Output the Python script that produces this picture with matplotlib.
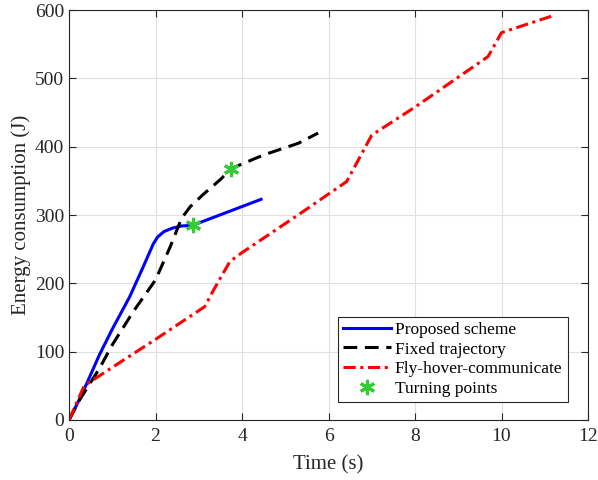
import matplotlib.pyplot as plt
import numpy as np

plt.rcParams['font.family'] = ['Liberation Serif', 'DejaVu Serif']
plt.rcParams['mathtext.fontset'] = 'stix'

# proposed scheme
t_prop = [0, 0.2, 0.4, 0.7, 1.0, 1.4, 1.7, 1.95, 2.05, 2.2, 2.4, 2.6, 2.86, 4.44]
e_prop = [0, 25, 52, 95, 133, 180, 222, 258, 268, 276, 281, 284, 285, 323]

# fixed trajectory
t_fix = [0, 0.25, 0.7, 1.0, 1.5, 2.0, 2.35, 2.6, 2.8, 3.1, 3.5, 3.75, 3.9, 4.5, 5.3, 5.76]
e_fix = [0, 30, 75, 110, 160, 205, 255, 295, 312, 330, 352, 368, 372, 388, 405, 420]

# fly-hover-communicate
t_fhc = [0, 0.35, 1.0, 2.0, 3.14, 3.34, 3.72, 4.0, 5.34, 6.42, 7.0, 8.0, 9.69, 10.0, 11.2]
e_fhc = [0, 50, 77, 118, 166, 190, 232, 245, 302, 349, 417, 458, 532, 567, 592]

# turning points
t_turn = [2.86, 3.75]
e_turn = [285, 368]

fig = plt.figure(figsize=(5.98, 4.8), dpi=100)
ax = fig.add_axes([0.1154, 0.125, 0.8679, 0.854])

ax.plot(t_prop, e_prop, color='#0000ff', lw=2.2, label='Proposed scheme')
ax.plot(t_fix, e_fix, color='k', lw=2.2, ls=(0, (4.5, 2.5)), label='Fixed trajectory')
ax.plot(t_fhc, e_fhc, color='#ff0000', lw=2.2, ls=(0, (4, 1.5, 1, 1.5)), label='Fly-hover-communicate')
ax.plot(t_turn, e_turn, ls='none', marker=(6, 2, 0), ms=11, mew=2.2, color='#33cc33',
        label='Turning points', zorder=5)

ax.set_xlim(0, 12)
ax.set_ylim(0, 600)
ax.set_xticks(np.arange(0, 13, 2))
ax.set_yticks(np.arange(0, 601, 100))
ax.grid(True, color='#e0e0e0', lw=0.8)
ax.set_axisbelow(True)
ax.tick_params(direction='in', top=True, right=True, labelsize=14, colors='#262626', length=5)
ax.tick_params(axis='x', pad=6)
for s in ax.spines.values():
    s.set_color('#262626')
    s.set_linewidth(0.8)

ax.set_xlabel('Time (s)', fontsize=15, color='#262626', labelpad=7)
ax.set_ylabel('Energy consumption (J)', fontsize=15, color='#262626', labelpad=3)

leg = ax.legend(loc='lower right', bbox_to_anchor=(0.961, 0.044), fontsize=12.5,
                fancybox=False, edgecolor='#262626', framealpha=1,
                handlelength=2.8, handletextpad=0.2, borderpad=0.3, labelspacing=0.2,
                borderaxespad=0)
leg.get_frame().set_linewidth(0.8)

fig.savefig('out.png', dpi=100)
